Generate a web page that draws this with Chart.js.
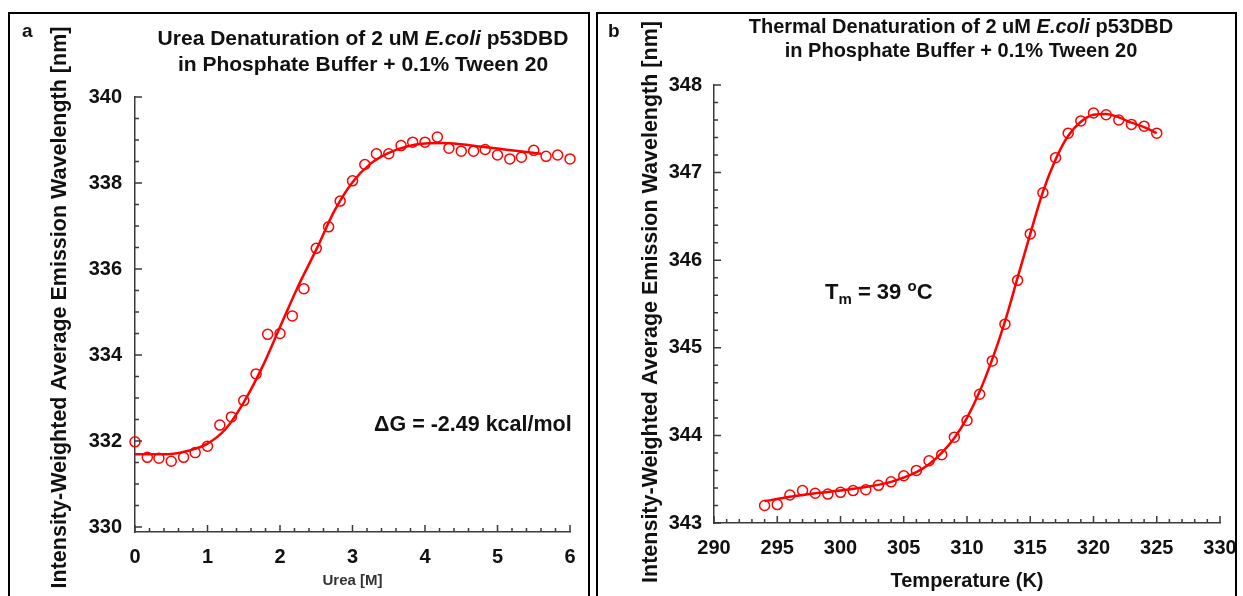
<!DOCTYPE html>
<html>
<head>
<meta charset="utf-8">
<script src="https://cdn.jsdelivr.net/npm/chart.js@4.4.1/dist/chart.umd.min.js"></script>
<style>
  html, body { margin: 0; padding: 0; background: #fff; overflow: hidden; }
  body { width: 1243px; height: 596px; position: relative; font-family: "Liberation Sans", Arial, sans-serif; }
  .panel { position: absolute; border: 2px solid #000; box-sizing: border-box; }
  #panelA { left: 8px; top: 12px; width: 582px; height: 620px; }
  #panelB { left: 596px; top: 12px; width: 641px; height: 620px; }
  canvas { position: absolute; }
  #chartA { left: 10px; top: 14px; }
  #chartB { left: 598px; top: 14px; }
  .txt { position: absolute; font-weight: bold; color: #111; white-space: nowrap; }
  .title { text-align: center; }
  sub, sup { font-size: 15px; line-height: 0; }
</style>
</head>
<body>
<div class="panel" id="panelA"></div>
<div class="panel" id="panelB"></div>
<canvas id="chartA" width="578" height="582"></canvas>
<canvas id="chartB" width="637" height="582"></canvas>

<div class="txt" style="left:22px; top:21px; font-size:19px; line-height:19px;">a</div>
<div class="txt" style="left:608px; top:21px; font-size:19px; line-height:19px;">b</div>
<div class="txt title" style="left:113px; width:500px; top:25px; font-size:21px; line-height:26px;">Urea Denaturation of 2 uM <i>E.coli</i> p53DBD<br>in Phosphate Buffer + 0.1% Tween 20</div>
<div class="txt title" style="left:711px; width:500px; top:14px; font-size:20px; line-height:24px;">Thermal Denaturation of 2 uM <i>E.coli</i> p53DBD<br>in Phosphate Buffer + 0.1% Tween 20</div>
<div class="txt" style="left:374px; top:414px; font-size:21.5px; line-height:21.5px;">&Delta;G = -2.49 kcal/mol</div>
<div class="txt" style="left:825px; top:281px; font-size:22px; line-height:22px;">T<sub>m</sub> = 39 <sup>o</sup>C</div>

<script>
const RED = '#ff0000';
const AXIS = '#3a3a3a';
const TEXT = '#111';

// panel a: urea denaturation
const ureaConc = [0, 0.17, 0.33, 0.5, 0.67, 0.83, 1, 1.17, 1.33, 1.5, 1.67, 1.83, 2, 2.17, 2.33, 2.5, 2.67, 2.83, 3,
  3.17, 3.33, 3.5, 3.67, 3.83, 4, 4.17, 4.33, 4.5, 4.67, 4.83, 5, 5.17, 5.33, 5.5, 5.67, 5.83, 6];
const ureaWavelength = [331.98, 331.62, 331.6, 331.53, 331.62, 331.73, 331.88, 332.37, 332.56, 332.94, 333.56, 334.48,
  334.5, 334.91, 335.54, 336.48, 336.98, 337.58, 338.05, 338.43, 338.68, 338.68, 338.87, 338.95, 338.95, 339.07,
  338.81, 338.74, 338.74, 338.78, 338.65, 338.56, 338.6, 338.76, 338.62, 338.65, 338.56];
const ureaFitConc = [0, 0.25, 0.5, 0.75, 1, 1.25, 1.5, 1.75, 2, 2.25, 2.5, 2.75, 3, 3.25, 3.5, 3.75, 4, 4.25, 4.5,
  4.75, 5, 5.25, 5.6];
const ureaFitWavelength = [331.69, 331.69, 331.7, 331.78, 331.94, 332.28, 332.9, 333.7, 334.65, 335.6, 336.45, 337.35,
  338.02, 338.45, 338.7, 338.85, 338.92, 338.93, 338.9, 338.85, 338.8, 338.75, 338.68];
const ureaTicks = [0, 1, 2, 3, 4, 5, 6];
const wavelengthTicksA = [330, 332, 334, 336, 338, 340];

// panel b: thermal denaturation
const tempK = [294, 295, 296, 297, 298, 299, 300, 301, 302, 303, 304, 305, 306, 307, 308, 309, 310, 311, 312, 313,
  314, 315, 316, 317, 318, 319, 320, 321, 322, 323, 324, 325];
const tempWavelength = [343.2, 343.21, 343.32, 343.37, 343.34, 343.33, 343.35, 343.37, 343.38, 343.43, 343.47, 343.54,
  343.6, 343.71, 343.78, 343.98, 344.17, 344.47, 344.85, 345.27, 345.77, 346.3, 346.77, 347.17, 347.45, 347.59,
  347.68, 347.66, 347.6, 347.55, 347.53, 347.45];
const tempFitK = [294, 296, 298, 300, 302, 304, 306, 307, 308, 309, 310, 311, 312, 313, 314, 315, 316, 317, 318, 319,
  320, 321, 322, 323, 324, 325];
const tempFitWavelength = [343.25, 343.3, 343.34, 343.37, 343.41, 343.47, 343.58, 343.67, 343.8, 343.97, 344.2, 344.5,
  344.87, 345.3, 345.8, 346.3, 346.78, 347.15, 347.42, 347.58, 347.66, 347.67, 347.63, 347.57, 347.52, 347.45];
const tempTicks = [290, 295, 300, 305, 310, 315, 320, 325, 330];
const wavelengthTicksB = [343, 344, 345, 346, 347, 348];

const Y_TITLE = 'Intensity-Weighted Average Emission Wavelength [nm]';

Chart.defaults.font.family = '"Liberation Sans", Arial, sans-serif';
Chart.defaults.color = TEXT;

function toPoints(xs, ys) {
  return xs.map((x, i) => ({ x, y: ys[i] }));
}

// all tick positions (major + minor), majors get a label
function tickList(min, max, step, majors) {
  const out = [];
  for (let i = Math.ceil(min / step - 1e-9); i * step <= max + 1e-9; i++) {
    const v = Math.round(i * step * 1000) / 1000;
    out.push({ value: v, isMajor: majors.includes(v) });
  }
  return out;
}

// sigmaplot style ticks pointing into the plot
const innerTicks = {
  id: 'innerTicks',
  afterDraw(chart) {
    const { ctx, scales: { x, y } } = chart;
    ctx.save();
    ctx.strokeStyle = AXIS;
    ctx.lineWidth = 1.5;
    ctx.beginPath();
    x.ticks.forEach(t => {
      const px = x.getPixelForValue(t.value);
      ctx.moveTo(px, x.top);
      ctx.lineTo(px, x.top - (t.isMajor ? 7 : 4));
    });
    y.ticks.forEach(t => {
      const py = y.getPixelForValue(t.value);
      ctx.moveTo(y.right, py);
      ctx.lineTo(y.right + (t.isMajor ? 7 : 4), py);
    });
    ctx.stroke();
    ctx.restore();
  }
};

// y axis title, a bit off the plot centre like the original
const yTitle = {
  id: 'yTitle',
  afterDraw(chart, args, opts) {
    const { ctx, chartArea } = chart;
    ctx.save();
    ctx.translate(opts.x, (chartArea.top + chartArea.bottom) / 2 + opts.shift);
    ctx.rotate(-Math.PI / 2);
    ctx.font = 'bold 21.5px "Liberation Sans", Arial, sans-serif';
    ctx.fillStyle = TEXT;
    ctx.textAlign = 'center';
    ctx.textBaseline = 'middle';
    ctx.fillText(opts.text, 0, 0);
    ctx.restore();
  }
};

function axis(opts) {
  return {
    type: 'linear',
    min: opts.min,
    max: opts.max,
    afterBuildTicks: s => { s.ticks = tickList(opts.min, opts.max, opts.step, opts.majors); },
    afterFit: opts.fit,
    grid: { display: true, drawOnChartArea: false, drawTicks: false },
    border: { display: true, color: AXIS, width: 1.5 },
    ticks: {
      autoSkip: false,
      maxRotation: 0,
      padding: opts.padding,
      color: TEXT,
      font: { size: 20, weight: 'bold' },
      callback: (v, i, t) => (t[i].isMajor ? v : '')
    },
    title: opts.title || { display: false }
  };
}

function drawPanel(id, p) {
  new Chart(document.getElementById(id), {
    type: 'scatter',
    data: {
      datasets: [
        {
          data: toPoints(p.xs, p.ys),
          showLine: false,
          pointRadius: 5,
          pointBorderWidth: 1.5,
          pointBorderColor: RED,
          pointBackgroundColor: 'rgba(0,0,0,0)',
          clip: false
        },
        {
          data: toPoints(p.fitX, p.fitY),
          showLine: true,
          pointRadius: 0,
          borderColor: RED,
          borderWidth: 2.5,
          cubicInterpolationMode: 'monotone',
          clip: false
        }
      ]
    },
    options: {
      responsive: false,
      animation: false,
      events: [],
      layout: { padding: p.padding },
      plugins: {
        legend: { display: false },
        tooltip: { enabled: false },
        yTitle: { text: Y_TITLE, x: p.titleX, shift: p.titleShift }
      },
      scales: { x: p.x, y: p.y }
    },
    plugins: [innerTicks, yTitle]
  });
}

drawPanel('chartA', {
  xs: ureaConc, ys: ureaWavelength, fitX: ureaFitConc, fitY: ureaFitWavelength,
  padding: { left: 0, right: 18, top: 83, bottom: 0 },
  titleX: 50, titleShift: -7,
  x: axis({
    min: 0, max: 6, step: 0.2, majors: ureaTicks, padding: 13,
    fit: s => { s.height = 64; s.paddingLeft = 0; s.paddingRight = 0; },
    title: { display: true, text: 'Urea [M]', color: '#333', font: { size: 15, weight: 'bold' }, padding: { top: 0, bottom: 6 } }
  }),
  y: axis({
    min: 329.884, max: 340, step: 0.5, majors: wavelengthTicksA, padding: 13,
    fit: s => { s.width = 125; }
  })
});

drawPanel('chartB', {
  xs: tempK, ys: tempWavelength, fitX: tempFitK, fitY: tempFitWavelength,
  padding: { left: 0, right: 15, top: 71, bottom: 0 },
  titleX: 53, titleShift: -2,
  x: axis({
    min: 290, max: 330, step: 1, majors: tempTicks, padding: 13,
    fit: s => { s.height = 73; s.paddingLeft = 0; s.paddingRight = 0; },
    title: { display: true, text: 'Temperature (K)', color: TEXT, font: { size: 20, weight: 'bold' }, padding: { top: 0, bottom: 3 } }
  }),
  y: axis({
    min: 343, max: 348, step: 0.2, majors: wavelengthTicksB, padding: 12,
    fit: s => { s.width = 116; }
  })
});
</script>
</body>
</html>
